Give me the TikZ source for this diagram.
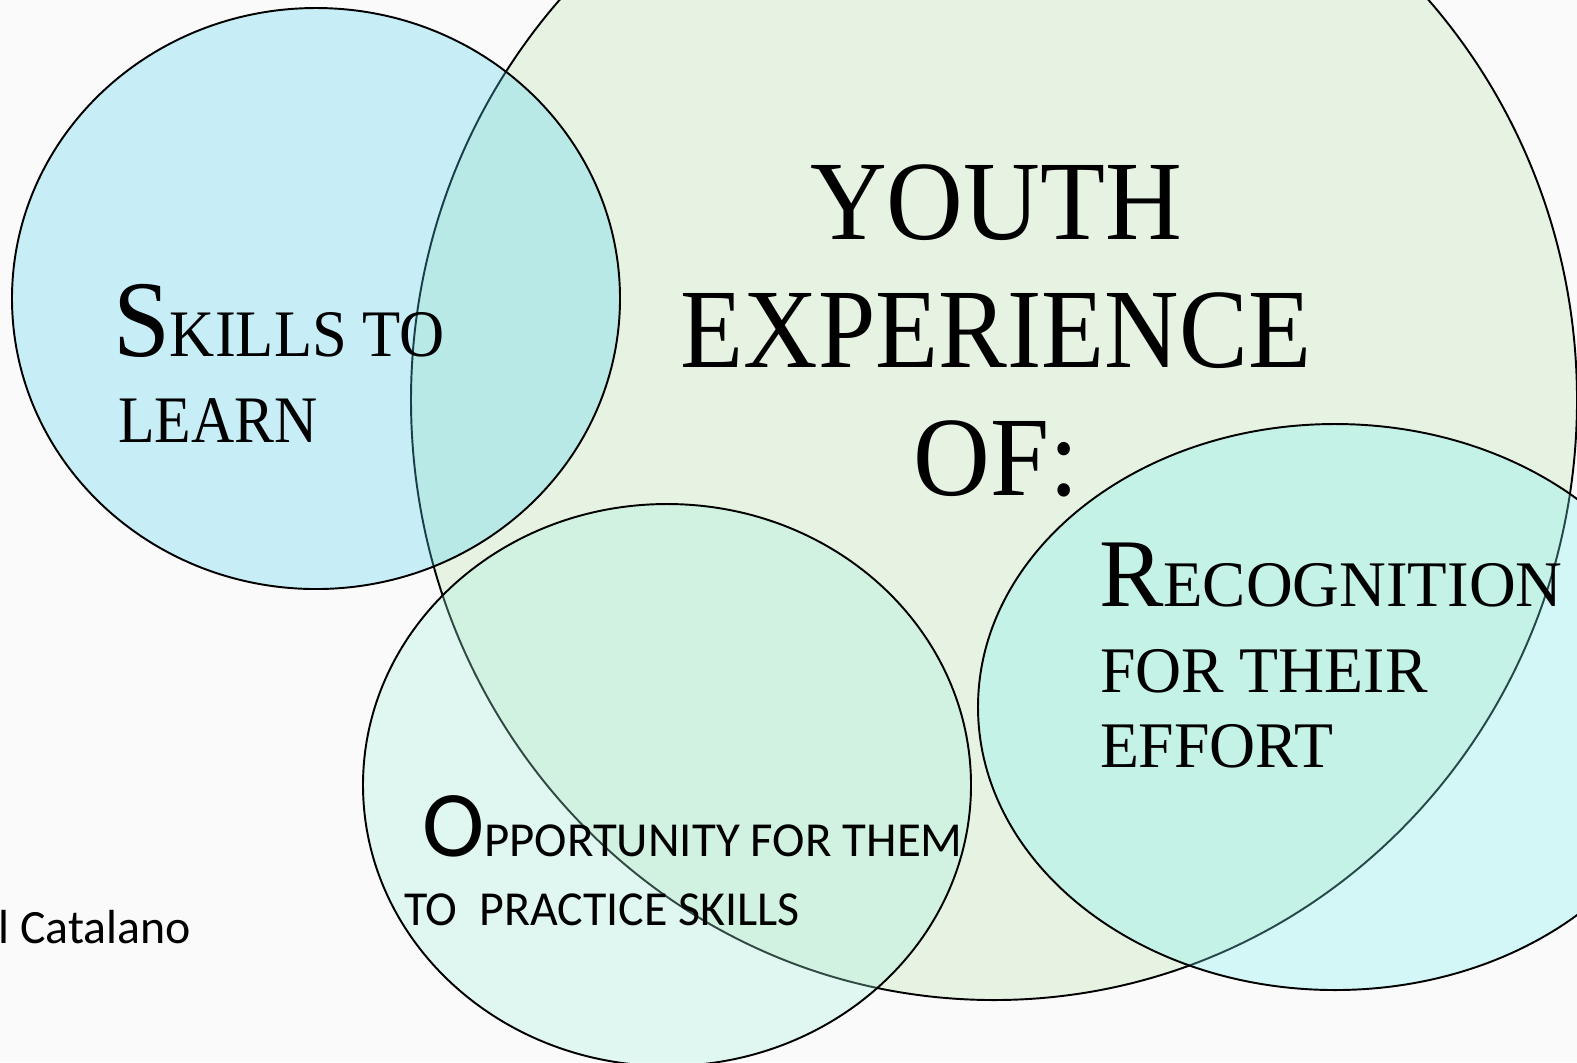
\documentclass[tikz,border=0pt]{standalone}
\usepackage{fontspec}
\usepackage{graphicx}
\setmainfont{Liberation Serif}
\newfontfamily\sansf{Carlito}
\definecolor{bgc}{RGB}{250,250,250}
\definecolor{bigc}{RGB}{230,243,227}
\definecolor{bluec}{RGB}{83,210,243}
\definecolor{oppc}{RGB}{163,240,223}
\definecolor{recc}{RGB}{123,240,240}
\newcommand{\hs}[2]{\scalebox{#1}[1]{#2}}
\newcommand{\fs}[1]{\fontsize{#1}{#1}\selectfont}
\begin{document}
\begin{tikzpicture}[x=0.01cm,y=-0.01cm,
  ring/.style={draw=black,line width=0.55pt},
  lbl/.style={inner sep=0pt,outer sep=0pt,anchor=base west},
  ttl/.style={inner sep=0pt,outer sep=0pt,anchor=base}]
\useasboundingbox (0,0) rectangle (1577,1062);
\clip (0,0) rectangle (1577,1062);
\fill[bgc] (0,0) rectangle (1577,1062);
\filldraw[ring,fill=bigc] (994,400) ellipse [x radius=583, y radius=600];
\filldraw[ring,fill=bluec,fill opacity=0.3] (316,298.5) ellipse [x radius=304, y radius=290.5];
\filldraw[ring,fill=oppc,fill opacity=0.3] (667,785) ellipse [x radius=304, y radius=281];
\filldraw[ring,fill=recc,fill opacity=0.3] (1335,707) ellipse [x radius=357, y radius=283];
\node[ttl] (youth) at (996,239) {\fs{32.15pt}\hs{0.94}{YOUTH}};
\node[ttl] (exper) at (996,367) {\fs{32.15pt}\hs{0.912}{EXPERIENCE}};
\node[ttl] (of) at (996,495) {\fs{32.15pt}\hs{0.94}{OF:}};
\node[lbl] (skills) at (113,356) {\hs{0.94}{\fs{31pt}S\fs{18.9pt}KILLS TO}};
\node[lbl] (learn) at (118,442) {\fs{18.9pt}\hs{0.9}{LEARN}};
\node[lbl] (recog) at (1099,606) {\hs{0.995}{\fs{27.6pt}R\fs{18.5pt}ECOGNITION}};
\node[lbl] (forth) at (1100,692) {\fs{18.5pt}\hs{0.98}{FOR THEIR}};
\node[lbl] (effort) at (1100,767) {\fs{18.5pt}\hs{0.98}{EFFORT}};
\node[lbl] (opp) at (422,856) {\sansf\fs{26.7pt}O\fs{13.9pt}PPORTUNITY FOR THEM};
\node[lbl] (topr) at (404,925) {\sansf\fs{13.9pt}\hs{0.98}{TO\ \ PRACTICE SKILLS}};
\node[lbl] (cat) at (-1.5,943) {\sansf\fs{13.6pt}l Catalano};
\end{tikzpicture}
\end{document}
